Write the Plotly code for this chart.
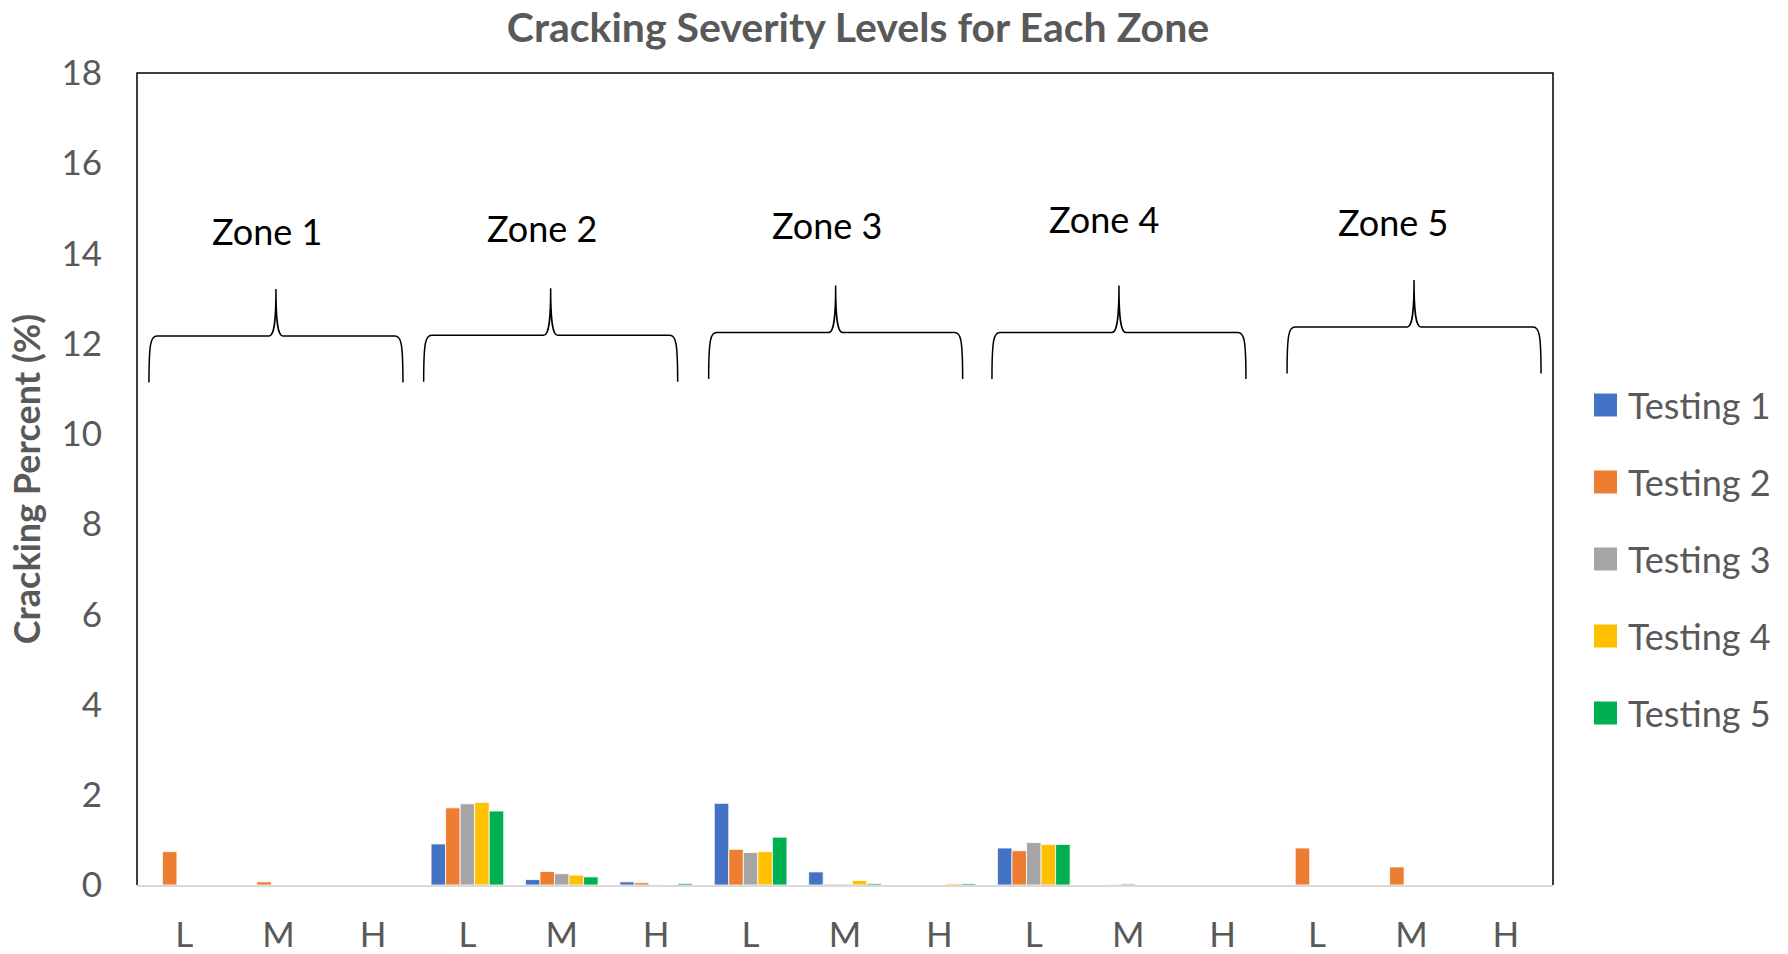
import plotly.graph_objects as go

# Severity level of each bar group, five zones of L / M / H
severity = ["L", "M", "H"] * 5
zones = ["Zone 1", "Zone 2", "Zone 3", "Zone 4", "Zone 5"]

series_names = ["Testing 1", "Testing 2", "Testing 3", "Testing 4", "Testing 5"]
testing_1 = [0, 0, 0, 0.91, 0.12, 0.07, 1.81, 0.29, 0, 0.82, 0, 0, 0, 0, 0]
testing_2 = [0.74, 0.07, 0, 1.71, 0.30, 0.05, 0.79, 0.02, 0, 0.76, 0.01, 0, 0.82, 0.40, 0]
testing_3 = [0, 0, 0, 1.80, 0.25, 0.01, 0.72, 0.02, 0, 0.94, 0.03, 0, 0, 0, 0]
testing_4 = [0, 0, 0, 1.83, 0.22, 0, 0.74, 0.10, 0.03, 0.90, 0, 0, 0, 0, 0]
testing_5 = [0, 0, 0, 1.64, 0.18, 0.035, 1.06, 0.03, 0.03, 0.90, 0, 0, 0, 0, 0]
series_values = [testing_1, testing_2, testing_3, testing_4, testing_5]

colors = ["#4472C4", "#ED7D31", "#A5A5A5", "#FFC000", "#00B050"]
y_ticks = list(range(0, 19, 2))

# Brace annotations over each zone (data coordinates)
brace_tip_x = [0.972, 3.882, 6.901, 9.902, 13.028]
brace_tip_y = [13.21, 13.23, 13.29, 13.29, 13.41]
zone_label_x = [0.874, 3.786, 6.806, 9.741, 12.81]
zone_label_y = [14.50, 14.57, 14.64, 14.77, 14.69]

TEXT = "#595959"
FONT = "Lato"

# pixel geometry of the plotting area
W, H = 1788, 954
ML, MR, MT, MB = 137, 235, 73, 69
PX_PER_X = (W - ML - MR) / 15.0
PX_PER_Y = (H - MT - MB) / 18.0

x_pos = list(range(len(severity)))

fig = go.Figure()
for name, vals, col in zip(series_names, series_values, colors):
    fig.add_trace(go.Bar(
        x=x_pos, y=vals, name=name,
        marker=dict(color=col, line=dict(color="rgba(255,255,255,0.8)", width=1)),
        showlegend=False,
    ))


def brace_path(xt, yt):
    # brace geometry in pixels, converted to data units
    half_w = 127.0
    drop = 46.5
    rise = 47.0

    def P(dx, dy):
        return f"{xt + dx / PX_PER_X:.4f},{yh - dy / PX_PER_Y:.4f}"

    yh = yt - rise / PX_PER_Y
    xl, xr = -half_w, half_w
    return (
        f"M {P(xl, drop)} "
        f"C {P(xl, 6)} {P(xl + 2, 0)} {P(xl + 8, 0)} "
        f"L {P(-7, 0)} "
        f"C {P(-2, 0)} {P(0, -12)} {P(0, -rise)} "
        f"C {P(0, -12)} {P(2, 0)} {P(7, 0)} "
        f"L {P(xr - 8, 0)} "
        f"C {P(xr - 2, 0)} {P(xr, 6)} {P(xr, drop)}"
    )


shapes = []
for xt, yt in zip(brace_tip_x, brace_tip_y):
    shapes.append(dict(type="path", xref="x", yref="y", path=brace_path(xt, yt),
                       line=dict(color="black", width=1.5)))

# frame (left, top, right) around the plotting area
shapes.append(dict(type="path", xref="paper", yref="paper",
                   path="M 0,0 L 0,1 L 1,1 L 1,0",
                   line=dict(color="black", width=1.5), layer="above"))

annotations = []
for z, zx, zy in zip(zones, zone_label_x, zone_label_y):
    annotations.append(dict(x=zx, y=zy, xref="x", yref="y", text=z, showarrow=False,
                            font=dict(family=FONT, size=36, color="black"),
                            xanchor="center", yanchor="middle"))

# legend drawn as swatches with labels
pw, ph = W - ML - MR, H - MT - MB
legend_y_px = [405, 482, 559, 636, 713]
for name, col, ly in zip(series_names, colors, legend_y_px):
    yc = (H - MB - ly) / ph
    x0 = (1594 - ML) / pw
    x1 = (1617 - ML) / pw
    hs = 11.5 / ph
    shapes.append(dict(type="rect", xref="paper", yref="paper",
                       x0=x0, x1=x1, y0=yc - hs, y1=yc + hs,
                       fillcolor=col, line=dict(width=0)))
    annotations.append(dict(x=(1626 - ML) / pw, y=yc, xref="paper", yref="paper",
                            text=name, showarrow=False, xanchor="left", yanchor="middle",
                            font=dict(family=FONT, size=36, color=TEXT)))

fig.update_layout(
    width=W, height=H,
    margin=dict(l=ML, r=MR, t=MT, b=MB, autoexpand=False),
    paper_bgcolor="white", plot_bgcolor="white",
    barmode="group", bargap=0.23, bargroupgap=0,
    title=dict(text="<b>Cracking Severity Levels for Each Zone</b>",
               x=858 / W, xanchor="center", y=1 - 28 / H, yanchor="middle",
               font=dict(family=FONT, size=41, color=TEXT)),
    xaxis=dict(range=[-0.5, 14.5], tickmode="array", tickvals=x_pos, ticktext=severity,
               showgrid=False, zeroline=False, showline=True, linecolor="#D9D9D9",
               linewidth=2, ticks="", ticklabelstandoff=18, automargin=False,
               tickfont=dict(family=FONT, size=35, color=TEXT)),
    yaxis=dict(range=[0, 18], tickmode="array", tickvals=y_ticks,
               showgrid=False, zeroline=False, showline=False, ticks="",
               ticklabelstandoff=34, automargin=False,
               tickfont=dict(family=FONT, size=35, color=TEXT),
               title=dict(text="<b>Cracking Percent (%)</b>", standoff=9,
                          font=dict(family=FONT, size=36, color=TEXT))),
    shapes=shapes,
    annotations=annotations,
)

fig.write_html("out.html")
